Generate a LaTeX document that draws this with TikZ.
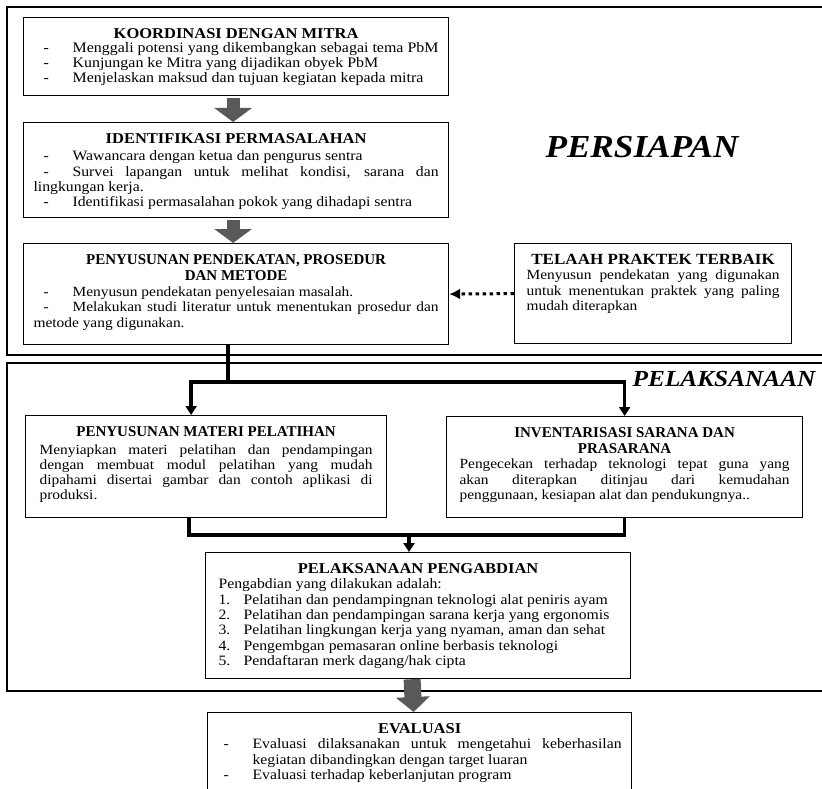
\documentclass[tikz,border=0pt]{standalone}
\usepackage{fontspec}
\setmainfont{Liberation Serif}[FakeStretch=1.1]
\newfontfamily\narrowfont{Liberation Serif}
\usetikzlibrary{arrows.meta}

\newcommand\hd[2][0pt]{{\centering\bfseries\fontsize{15}{16}\selectfont #2\par}\vspace{#1}}
\newcommand\nhd[2][0pt]{{\centering\narrowfont\bfseries\fontsize{15}{16}\selectfont #2\par}\vspace{#1}}
\newcommand\itm[1]{\makebox[39pt][l]{\hspace{10pt}-}#1\par}
\newcommand\eitm[1]{\hangindent=35pt\hangafter=1\makebox[35pt][l]{\hspace{6pt}-}#1\par}
\newcommand\nitm[2]{\makebox[25pt][l]{#1.}#2\par}

\tikzset{
  box/.style={draw, line width=1.2pt, anchor=north west, inner xsep=10pt, inner ysep=5pt,
    text height=16pt, align=justify, font=\fontsize{14.3}{15.3}\selectfont,
    execute at begin node={\hyphenpenalty=10000\tolerance=10000}},
  frame/.style={draw, line width=2pt},
  line/.style={line width=3.5pt},
  link/.style={line width=3.5pt, -{Triangle[width=11pt,length=9pt]}},
  bigarrow/.style={line width=13pt, black!65, -{Triangle[width=37pt,length=14pt]}},
  dotlink/.style={line width=3pt, dash pattern=on 3.5pt off 3.5pt, -{Latex[width=11pt,length=11pt]}}
}

\begin{document}
\begin{tikzpicture}[x=1pt, y=-1pt]
\useasboundingbox (0,0) rectangle (822,789);
\clip (0,0) rectangle (822,789);

\draw[frame] (7,7) rectangle (840,355);
\draw[frame] (7,363) rectangle (840,691);

\node[font=\fontsize{32}{32}\selectfont\bfseries\itshape] (persiapan) at (642,147) {PERSIAPAN};
\node[anchor=east, font=\fontsize{23}{23}\selectfont\bfseries\itshape] (pelaksanaan) at (819,379) {PELAKSANAAN};

\node[box, font=\fontsize{14.5}{15}\selectfont, text width=405pt, text depth=52pt] (koord) at (23,17) {%
  \hd[-1pt]{KOORDINASI DENGAN MITRA}
  \itm{Menggali potensi yang dikembangkan sebagai tema PbM}
  \itm{Kunjungan ke Mitra yang dijadikan obyek PbM}
  \itm{Menjelaskan maksud dan tujuan kegiatan kepada mitra}};
\node[box, text width=405pt, text depth=69pt] (ident) at (23,122) {%
  \hd[2pt]{IDENTIFIKASI PERMASALAHAN}
  \itm{Wawancara dengan ketua dan pengurus sentra}
  \itm{Survei lapangan untuk melihat kondisi, sarana dan\linebreak lingkungan kerja.}
  \itm{Identifikasi permasalahan pokok yang dihadapi sentra}};
\node[box, font=\fontsize{14}{15.5}\selectfont, text width=405pt, text depth=75pt] (penpend) at (23,243) {%
  \nhd{PENYUSUNAN PENDEKATAN, PROSEDUR\\DAN METODE}
  \itm{Menyusun pendekatan penyelesaian masalah.}
  \itm{Melakukan studi literatur untuk menentukan prosedur dan\linebreak metode yang digunakan.}};
\node[box, font=\fontsize{14}{15.2}\selectfont, inner xsep=12pt, text width=253pt, text depth=74pt] (telaah) at (514,243) {%
  {\centering\bfseries\fontsize{15.5}{16}\selectfont \mbox{TELAAH PRAKTEK TERBAIK}\par}
  Menyusun pendekatan yang digunakan\linebreak untuk menentukan praktek yang paling\linebreak mudah diterapkan\par};

\node[box, font=\fontsize{14}{15}\selectfont, inner xsep=14pt, text width=333pt, text depth=76pt] (materi) at (25,415) {%
  \nhd[3pt]{PENYUSUNAN MATERI PELATIHAN}
  Menyiapkan materi pelatihan dan pendampingan\linebreak dengan membuat modul pelatihan yang mudah\linebreak dipahami disertai gambar dan contoh aplikasi di\linebreak produksi.\par};
\node[box, font=\fontsize{14}{15.3}\selectfont, inner xsep=13pt, text width=330pt, text depth=75pt] (invent) at (446,416) {%
  \nhd{INVENTARISASI SARANA DAN\\PRASARANA}
  Pengecekan terhadap teknologi tepat guna yang\linebreak akan diterapkan ditinjau dari kemudahan\linebreak penggunaan, kesiapan alat dan pendukungnya..\par};
\node[box, inner xsep=13pt, text width=399pt, text depth=100pt] (pelak) at (205,552) {%
  \hd{PELAKSANAAN PENGABDIAN}
  Pengabdian yang dilakukan adalah:\par
  \nitm{1}{Pelatihan dan pendampingnan teknologi alat peniris ayam}
  \nitm{2}{Pelatihan dan pendampingan sarana kerja yang ergonomis}
  \nitm{3}{Pelatihan lingkungan kerja yang nyaman, aman dan sehat}
  \nitm{4}{Pengembgan pemasaran online berbasis teknologi}
  \nitm{5}{Pendaftaran merk dagang/hak cipta}};
\node[box, text width=404pt, text depth=64pt] (eval) at (207,712) {%
  \hd{EVALUASI}
  \eitm{Evaluasi dilaksanakan untuk mengetahui keberhasilan\linebreak kegiatan dibandingkan dengan target luaran}
  \eitm{Evaluasi terhadap keberlanjutan program}};

\draw[bigarrow] ([xshift=-3pt]koord.south) ++(0,2) -- ([xshift=-3pt]ident.north);
\draw[bigarrow] ([xshift=-3pt]ident.south) ++(0,2) -- ([xshift=-3pt]penpend.north);
\draw[dotlink] (telaah.west) -- (penpend.east);

\coordinate (split) at ([xshift=-8pt]penpend.south |- 0,382);
\draw[line] ([xshift=-8pt]penpend.south) -- (split);
\draw[link] (split) -| ([xshift=-15pt]materi.north);
\draw[link] (split) -| (invent.north);

\coordinate (merge) at (409,535);
\draw[line] ([xshift=-17pt]materi.south) |- (merge) -| (invent.south);
\draw[link] (merge) -- (merge |- pelak.north);

\draw[bigarrow, line width=17pt, -{Triangle[width=33pt,length=15pt]}] ([xshift=-6pt]pelak.south) -- ([xshift=-6pt]eval.north);
\end{tikzpicture}
\end{document}
